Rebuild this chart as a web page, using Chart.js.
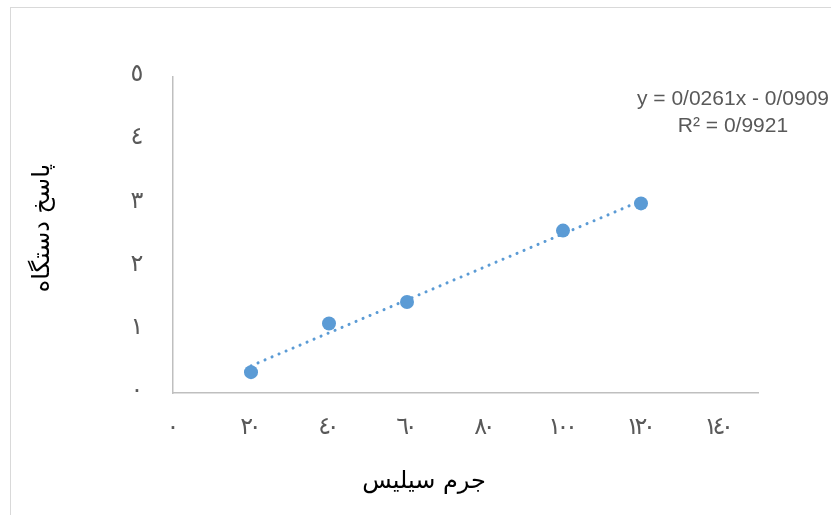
<!DOCTYPE html>
<html>
<head>
<meta charset="utf-8">
<script src="https://cdn.jsdelivr.net/npm/chart.js@4/dist/chart.umd.min.js"></script>
<style>
  html, body { margin: 0; padding: 0; background: #fff; }
  #wrap { position: relative; width: 831px; height: 515px; overflow: hidden; }
  #frame { position: absolute; left: 10px; top: 7px; width: 900px; height: 600px; border: 1px solid #D9D9D9; box-sizing: border-box; }
  canvas { position: absolute; left: 0; top: 0; }
</style>
</head>
<body>
<div id="wrap">
  <div id="frame"></div>
  <canvas id="c" width="831" height="515"></canvas>
</div>
<script>
// Data
const xValues = [20, 40, 60, 100, 120];
const yValues = [0.33, 1.10, 1.44, 2.57, 3.00];
const trendX = [20, 120];
const trendY = [0.43, 3.04];
const xTicks = [0, 20, 40, 60, 80, 100, 120, 140];
const xTickLabels = ['٠', '٢٠', '٤٠', '٦٠', '٨٠', '١٠٠', '١٢٠', '١٤٠'];
const yTicks = [0, 1, 2, 3, 4, 5];
const yTickLabels = ['٠', '١', '٢', '٣', '٤', '٥'];
const xTitle = 'جرم سیلیس';
const yTitle = 'پاسخ دستگاه';
const eqLines = ['y = 0/0261x - 0/0909', 'R² = 0/9921'];

const blue = '#5B9BD5';
const tickColor = '#595959';
const arabicFont = "'DejaVu Sans', 'Noto Sans', sans-serif";
const tickFont = "24px " + arabicFont;
const digitGap = -4.5;

function drawTight(ctx, text, cx, cy) {
  const chars = Array.from(text);
  const widths = chars.map(c => ctx.measureText(c).width);
  const total = widths.reduce((a, b) => a + b, 0) + digitGap * (chars.length - 1);
  let x = cx - total / 2;
  ctx.textAlign = 'left';
  chars.forEach((c, i) => { ctx.fillText(c, x, cy); x += widths[i] + digitGap; });
}

const textPlugin = {
  id: 'textLabels',
  afterDraw(chart) {
    const ctx = chart.ctx;
    const xs = chart.scales.x, ys = chart.scales.y;
    ctx.save();
    // tick labels, placed through the scales
    ctx.fillStyle = tickColor;
    ctx.font = tickFont;
    ctx.textBaseline = 'middle';
    xTicks.forEach((v, i) => drawTight(ctx, xTickLabels[i], xs.getPixelForValue(v), xs.top + 35));
    yTicks.forEach((v, i) => drawTight(ctx, yTickLabels[i], ys.right - 36, ys.getPixelForValue(v) - 2));
    // trendline equation
    ctx.font = "21px 'Liberation Sans', Arial, sans-serif";
    ctx.textAlign = 'center';
    ctx.fillText(eqLines[0], 733, 99);
    ctx.fillText(eqLines[1], 733, 126);
    // axis titles
    ctx.fillStyle = '#000';
    ctx.font = "24px " + arabicFont;
    ctx.fillText(xTitle, 424, 482);
    ctx.translate(43, 228);
    ctx.rotate(-Math.PI / 2);
    ctx.fillText(yTitle, 0, 0);
    ctx.restore();
  }
};

new Chart(document.getElementById('c'), {
  type: 'scatter',
  data: {
    datasets: [
      {
        label: 'trend',
        data: trendX.map((x, i) => ({ x: x, y: trendY[i] })),
        showLine: true,
        borderColor: blue,
        borderWidth: 3,
        borderDash: [0.1, 7.5],
        borderCapStyle: 'round',
        pointRadius: 0,
        fill: false,
        order: 2
      },
      {
        label: 'data',
        data: xValues.map((x, i) => ({ x: x, y: yValues[i] })),
        backgroundColor: blue,
        borderColor: blue,
        pointRadius: 7,
        pointBorderWidth: 0,
        order: 1
      }
    ]
  },
  options: {
    responsive: false,
    animation: false,
    events: [],
    layout: { padding: { left: 27, right: 73, top: 77, bottom: 0 } },
    plugins: { legend: { display: false }, tooltip: { enabled: false } },
    scales: {
      x: {
        type: 'linear',
        min: 0,
        max: 150,
        afterBuildTicks: (axis) => { axis.ticks = xTicks.map(v => ({ value: v })); },
        afterFit: (axis) => { axis.height = 122; },
        grid: { display: false },
        border: { display: true, color: '#BFBFBF', width: 1.5 },
        ticks: { display: false },
        title: { display: false }
      },
      y: {
        type: 'linear',
        min: 0,
        max: 5,
        afterBuildTicks: (axis) => { axis.ticks = yTicks.map(v => ({ value: v })); },
        afterFit: (axis) => { axis.width = 146; },
        grid: { display: false },
        border: { display: true, color: '#BFBFBF', width: 1.5 },
        ticks: { display: false },
        title: { display: false }
      }
    }
  },
  plugins: [textPlugin]
});
</script>
</body>
</html>
